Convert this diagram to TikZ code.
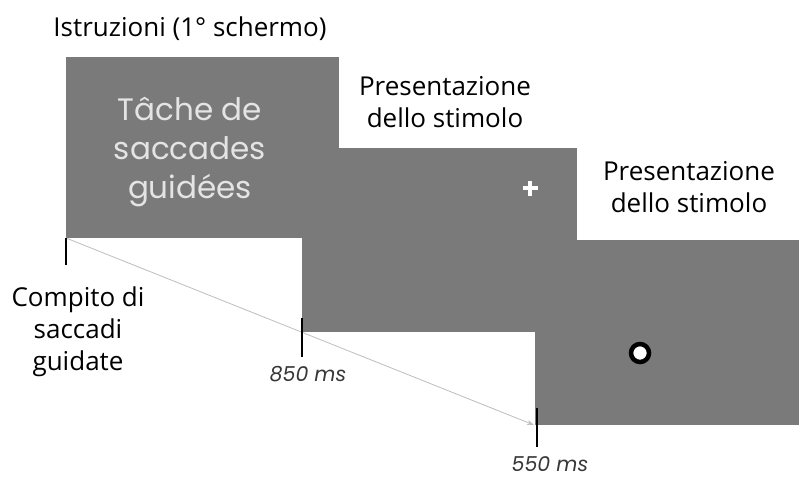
\documentclass[tikz,border=0pt]{standalone}
\usepackage{fontspec}
\setmainfont{Open Sans}
\newfontfamily\geo{Poppins}
\usetikzlibrary{arrows.meta}
\definecolor{screen}{RGB}{122,122,122}
\definecolor{screentext}{RGB}{228,228,228}
\definecolor{timeline}{RGB}{190,190,190}
\definecolor{msgrey}{RGB}{55,55,55}
\tikzset{
  screenbox/.style={fill=screen, draw=none, inner sep=0pt, anchor=north west},
  caption/.style={align=center, font=\fontsize{26}{32}\selectfont, text=black, inner sep=0pt},
  tick/.style={line width=1.1pt, black},
  mslabel/.style={font=\geo\itshape\fontsize{20.5}{24}\selectfont, text=msgrey, inner sep=0pt},
}
\begin{document}
\begin{tikzpicture}[x=1pt, y=-1pt]
\useasboundingbox (0,0) rectangle (799,482);
\fill[white] (0,0) rectangle (799,482);

% three screens, back to front
\node[screenbox, minimum width=264pt, minimum height=185pt] (s3) at (535,240) {};
\node[screenbox, minimum width=275pt, minimum height=184pt] (s2) at (302,148) {};
\node[screenbox, minimum width=273pt, minimum height=181pt] (s1) at (66,57) {};

% content of the screens
\node[align=center, text=screentext, font=\geo\fontsize{31}{39}\selectfont, inner sep=0pt] (title) at (190,152) {Tâche de\\saccades\\guidées};
\coordinate (fix) at (530,188);
\draw[white, line width=3.5pt] ([xshift=-7.5pt]fix) -- ([xshift=7.5pt]fix);
\draw[white, line width=3.5pt] ([yshift=-7.5pt]fix) -- ([yshift=7.5pt]fix);
\node[circle, draw=black, line width=4.5pt, fill=white, minimum size=18pt, inner sep=0pt] (target) at (640,353) {};

% captions
\node[caption] (cap1) at (190,29) {Istruzioni (1° schermo)};
\node[caption] (cap2) at (445,102) {Presentazione\\dello stimolo};
\node[caption] (cap3) at (689,187) {Presentazione\\dello stimolo};
\node[caption] (cap0) at (78,332) {Compito di\\saccadi\\guidate};

% time line
\coordinate (t0) at (66,238);
\coordinate (t0e) at (66,265);
\coordinate (t1) at (302,318);
\coordinate (t1e) at (302,357);
\coordinate (t2) at (537,408);
\coordinate (t2e) at (537,447);
\coordinate (tend) at (534,425);
\draw[timeline, line width=0.8pt, -{Stealth[length=7pt,width=5pt]}] (t0) -- (tend);
\draw[tick] (t0) -- (t0e);
\draw[tick] (t1) -- (t1e);
\draw[tick] (t2) -- (t2e);
\node[mslabel, anchor=base] (ms1) at (308,381) {850 ms};
\node[mslabel, anchor=base] (ms2) at (550,471) {550 ms};
\end{tikzpicture}
\end{document}
